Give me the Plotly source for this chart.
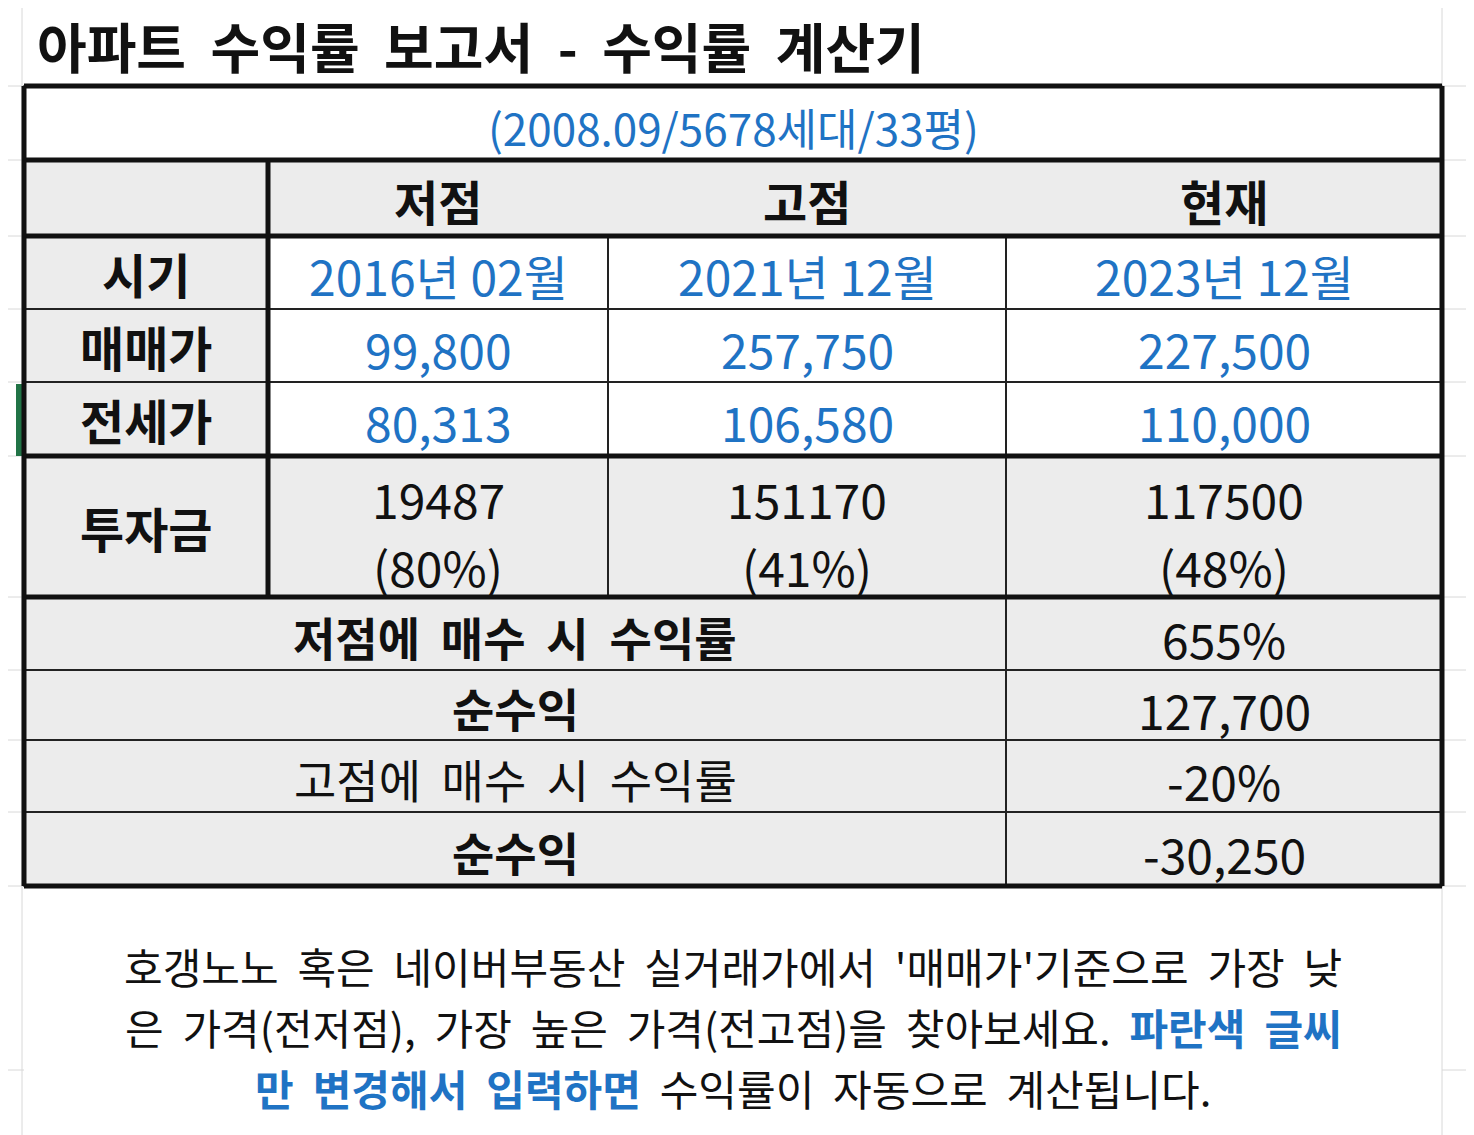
import plotly.graph_objects as go

title = "아파트  수익률  보고서  -  수익률  계산기"
subtitle = "(2008.09/5678세대/33평)"
col_heads = ["저점", "고점", "현재"]
row_heads = ["시기", "매매가", "전세가", "투자금"]
dates = ["2016년 02월", "2021년 12월", "2023년 12월"]
sale = ["99,800", "257,750", "227,500"]
jeonse = ["80,313", "106,580", "110,000"]
invest = ["19487", "151170", "117500"]
ratio = ["(80%)", "(41%)", "(48%)"]
sum_labels = ["저점에  매수  시  수익률", "순수익", "고점에  매수  시  수익률", "순수익"]
sum_bold = [True, True, False, True]
sum_values = ["655%", "127,700", "-20%", "-30,250"]
note_lines = [
    "호갱노노  혹은  네이버부동산  실거래가에서  '매매가'기준으로  가장  낮",
    "은  가격(전저점),  가장  높은  가격(전고점)을  찾아보세요.  <b><span style='color:#1f73c4'>파란색  글씨</span></b>",
    "<b><span style='color:#1f73c4'>만  변경해서  입력하면</span></b>  수익률이  자동으로  계산됩니다.",
]

W, H = 1474, 1135
OFF = 8
BLUE = "#1f73c4"
GRAY = "#ececec"
FONT = "Noto Sans CJK KR"
shapes, ann = [], []

def rect(x0, y0, x1, y1, fill, lw=2, col="#222"):
    shapes.append(dict(type="rect", x0=x0, y0=y0, x1=x1, y1=y1, fillcolor=fill,
                       line=dict(color=col, width=lw), layer="below"))

def line(x0, y0, x1, y1, w=4, col="#111"):
    shapes.append(dict(type="line", x0=x0, y0=y0, x1=x1, y1=y1, line=dict(color=col, width=w)))

def text(x, y, s, size=48, color="#111", bold=False, xanchor="center"):
    if bold:
        s = "<b>" + s + "</b>"
    ann.append(dict(x=x, y=y, text=s, showarrow=False, xanchor=xanchor, yanchor="middle",
                    font=dict(family=FONT, size=size, color=color)))

for gy in [86, 160, 236, 309, 382, 456, 597, 670, 740, 812, 886, 1070]:
    line(0, gy, 24, gy, w=1, col="#d8d8d8")
    line(1442, gy, W + OFF, gy, w=1, col="#d8d8d8")
line(22, 0, 22, H + OFF, w=1, col="#d8d8d8")
line(1442, 0, 1442, H + OFF, w=1, col="#d8d8d8")
shapes.append(dict(type="rect", x0=16, y0=384, x1=22, y1=456, fillcolor="#217346", line=dict(width=0)))

text(35, 45, title, size=54, bold=True, xanchor="left")

L, R = 24, 1442
cx = [268, 608, 1006, 1442]
rows = [236, 309, 382, 456, 597]
rect(L, 86, R, 160, "white")
text((L + R) / 2, 127, subtitle, size=44, color=BLUE)
rect(L, 160, R, 236, GRAY)
for i, h in enumerate(col_heads):
    text((cx[i] + cx[i + 1]) / 2, 200, h, size=48, bold=True)
vals = [dates, sale, jeonse]
for r in range(4):
    y0, y1 = rows[r], rows[r + 1]
    rect(L, y0, 268, y1, GRAY)
    text(146, (y0 + y1) / 2, row_heads[r], size=48, bold=True)
    for c in range(3):
        rect(cx[c], y0, cx[c + 1], y1, "white" if r < 3 else GRAY)
        if r < 3:
            text((cx[c] + cx[c + 1]) / 2, (y0 + y1) / 2 + 2, vals[r][c], size=48, color=BLUE)
        else:
            text((cx[c] + cx[c + 1]) / 2, 498, invest[c], size=48)
            text((cx[c] + cx[c + 1]) / 2, 566, ratio[c], size=48)
sy = [597, 670, 740, 812, 886]
for i in range(4):
    rect(L, sy[i], 1006, sy[i + 1], GRAY)
    rect(1006, sy[i], R, sy[i + 1], GRAY)
    text(515, (sy[i] + sy[i + 1]) / 2 + 2, sum_labels[i], size=46, bold=sum_bold[i])
    text(1224, (sy[i] + sy[i + 1]) / 2 + 4, sum_values[i], size=48)
for yy in [86, 160, 236, 456, 597, 886]:
    line(L, yy, R, yy, w=5)
line(L, 86, L, 886, w=5)
line(R, 86, R, 886, w=5)
line(268, 160, 268, 597, w=5)

for i, s in enumerate(note_lines):
    text(733, 965 + i * 61, s, size=42)

fig = go.Figure()
fig.update_layout(width=W, height=H, margin=dict(l=0, r=0, t=0, b=0),
                  paper_bgcolor="white", plot_bgcolor="white",
                  xaxis=dict(range=[OFF, W + OFF], visible=False, fixedrange=True),
                  yaxis=dict(range=[H + OFF, OFF], visible=False, fixedrange=True),
                  shapes=shapes, annotations=ann, showlegend=False)
fig.write_html("out.html")
